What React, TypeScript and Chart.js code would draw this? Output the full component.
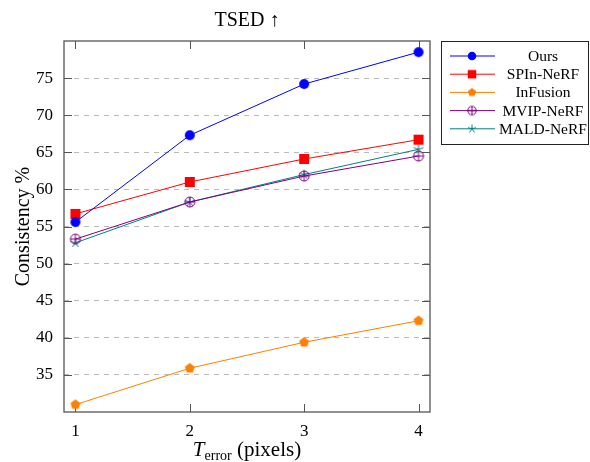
import React, { useEffect, useRef } from 'react';
import { Chart, registerables } from 'chart.js';
Chart.register(...registerables);

const xValues = [1, 2, 3, 4];
const xTickValues = [1, 2, 3, 4];
const yTickValues = [35, 40, 45, 50, 55, 60, 65, 70, 75];
const seriesNames = ['Ours', 'SPIn-NeRF', 'InFusion', 'MVIP-NeRF', 'MALD-NeRF'];
const ours = [55.6, 67.3, 74.2, 78.5];
const spin = [56.7, 61.0, 64.1, 66.7];
const infusion = [31.0, 35.9, 39.4, 42.3];
const mvip = [53.3, 58.3, 61.8, 64.5];
const mald = [52.8, 58.3, 62.0, 65.4];
const seriesColors = ['#0000ff', '#ff0000', '#ff8000', '#800080', '#008080'];

const FONT = "'Liberation Serif', 'DejaVu Serif', serif";

function makeMarker(kind: string, color: string, scale = 1): HTMLCanvasElement {
  const s = Math.ceil(16 * scale);
  const c = document.createElement('canvas');
  c.width = s;
  c.height = s;
  const ctx = c.getContext('2d')!;
  const cx = s / 2, cy = s / 2;
  ctx.fillStyle = color;
  ctx.strokeStyle = color;
  ctx.lineWidth = 1;
  if (kind === 'circle') {
    ctx.beginPath();
    ctx.arc(cx, cy, 5 * scale, 0, Math.PI * 2);
    ctx.fill();
  } else if (kind === 'square') {
    const h = 5 * scale;
    ctx.fillRect(cx - h, cy - h, 2 * h, 2 * h);
  } else if (kind === 'pentagon') {
    const r = 5.2 * scale;
    ctx.beginPath();
    for (let i = 0; i < 5; i++) {
      const a = -Math.PI / 2 + (i * 2 * Math.PI) / 5;
      const px = cx + r * Math.cos(a), py = cy + r * Math.sin(a);
      if (i === 0) ctx.moveTo(px, py); else ctx.lineTo(px, py);
    }
    ctx.closePath();
    ctx.fill();
  } else if (kind === 'oplus') {
    const r = 5 * scale;
    ctx.beginPath();
    ctx.arc(cx, cy, r, 0, Math.PI * 2);
    ctx.stroke();
    ctx.beginPath();
    ctx.moveTo(cx - r, cy); ctx.lineTo(cx + r, cy);
    ctx.moveTo(cx, cy - r); ctx.lineTo(cx, cy + r);
    ctx.stroke();
  } else if (kind === 'star') {
    const r = 5 * scale;
    ctx.beginPath();
    for (let i = 0; i < 5; i++) {
      const a = -Math.PI / 2 + (i * 2 * Math.PI) / 5;
      ctx.moveTo(cx, cy);
      ctx.lineTo(cx + r * Math.cos(a), cy + r * Math.sin(a));
    }
    ctx.stroke();
  }
  return c;
}

const markerKinds = ['circle', 'square', 'pentagon', 'oplus', 'star'];

export default function App() {
  const ref = useRef<HTMLCanvasElement | null>(null);
  useEffect(() => {
    if (!ref.current) return;
    const seriesValues = [ours, spin, infusion, mvip, mald];
    const markers = markerKinds.map((k, i) => makeMarker(k, seriesColors[i]));
    const legendMarkers = markerKinds.map((k, i) => makeMarker(k, seriesColors[i], 0.85));

    const datasets = seriesNames.map((name, i) => ({
      label: name,
      data: xValues.map((x, j) => ({ x, y: seriesValues[i][j] })),
      borderColor: seriesColors[i],
      backgroundColor: seriesColors[i],
      borderWidth: 1,
      pointStyle: markers[i] as any,
      pointRadius: 5,
      tension: 0,
    }));

    const decor = {
      id: 'decor',
      beforeDatasetsDraw(chart: any) {
        const { ctx, chartArea: a, scales } = chart;
        ctx.save();
        ctx.strokeStyle = '#555';
        ctx.lineWidth = 1;
        const tl = 8;
        ctx.beginPath();
        for (const v of xTickValues) {
          const px = Math.round(scales.x.getPixelForValue(v)) + 0.5;
          ctx.moveTo(px, a.top); ctx.lineTo(px, a.top + tl);
          ctx.moveTo(px, a.bottom); ctx.lineTo(px, a.bottom - tl);
        }
        for (const v of yTickValues) {
          const py = Math.round(scales.y.getPixelForValue(v)) + 0.5;
          ctx.moveTo(a.left, py); ctx.lineTo(a.left + tl, py);
          ctx.moveTo(a.right, py); ctx.lineTo(a.right - tl, py);
        }
        ctx.stroke();
        ctx.lineWidth = 1.3;
        ctx.strokeRect(a.left, a.top, a.right - a.left, a.bottom - a.top);
        ctx.restore();
      },
      afterDraw(chart: any) {
        const { ctx, chartArea: a } = chart;
        ctx.save();
        ctx.fillStyle = '#000';
        const cx = (a.left + a.right) / 2;
        // title
        ctx.font = `20px ${FONT}`;
        ctx.textAlign = 'center';
        ctx.textBaseline = 'alphabetic';
        ctx.fillText('TSED ↑', cx, 26);
        // y label
        ctx.save();
        ctx.translate(29, (a.top + a.bottom) / 2);
        ctx.rotate(-Math.PI / 2);
        ctx.font = `20px ${FONT}`;
        ctx.textAlign = 'center';
        ctx.fillText('Consistency %', 0, 0);
        ctx.restore();
        // x label
        const f1 = `italic 21px ${FONT}`;
        const f2 = `14px ${FONT}`;
        const f3 = `21px ${FONT}`;
        ctx.textAlign = 'left';
        ctx.font = f1; const w1 = ctx.measureText('T').width;
        ctx.font = f2; const w2 = ctx.measureText('error').width;
        ctx.font = f3; const w3 = ctx.measureText(' (pixels)').width;
        let x0 = cx - (w1 + w2 + w3) / 2;
        ctx.font = f1; ctx.fillText('T', x0, 456); x0 += w1;
        ctx.font = f2; ctx.fillText('error', x0, 460); x0 += w2;
        ctx.font = f3; ctx.fillText(' (pixels)', x0, 456);
        // legend
        const lx = 441, ly = 41, lw = 148, lh = 104;
        ctx.fillStyle = '#fff';
        ctx.fillRect(lx, ly, lw, lh);
        ctx.strokeStyle = '#222';
        ctx.lineWidth = 1;
        ctx.strokeRect(lx + 0.5, ly + 0.5, lw - 1, lh - 1);
        ctx.font = `15.5px ${FONT}`;
        ctx.textAlign = 'center';
        ctx.textBaseline = 'middle';
        seriesNames.forEach((name, i) => {
          const yy = 56 + i * 18.2;
          ctx.strokeStyle = seriesColors[i];
          ctx.beginPath();
          ctx.moveTo(450, yy); ctx.lineTo(495, yy);
          ctx.stroke();
          const m = legendMarkers[i];
          ctx.drawImage(m, 472 - m.width / 2, yy - m.height / 2);
          ctx.fillStyle = '#000';
          ctx.fillText(name, 543, yy + 1);
        });
        ctx.restore();
      },
    };

    const chart = new Chart(ref.current, {
      type: 'line',
      data: { datasets: datasets as any },
      options: {
        animation: false,
        responsive: false,
        layout: { padding: { left: 0, right: 160, top: 41, bottom: 0 } },
        plugins: { legend: { display: false }, title: { display: false }, tooltip: { enabled: false } },
        scales: {
          x: {
            type: 'linear',
            min: 0.9,
            max: 4.1,
            afterBuildTicks: (s: any) => { s.ticks = xTickValues.map((v) => ({ value: v })); },
            afterFit: (s: any) => { s.height = 50; },
            grid: { display: false, drawTicks: false },
            border: { display: false },
            ticks: { color: '#000', font: { family: FONT, size: 17 }, padding: 9, maxRotation: 0, callback: (v: any) => String(v) },
          },
          y: {
            type: 'linear',
            min: 30,
            max: 80,
            afterBuildTicks: (s: any) => { s.ticks = yTickValues.map((v) => ({ value: v })); },
            afterFit: (s: any) => { s.width = 64; },
            grid: { color: '#bbbbbb', lineWidth: 1, drawTicks: false } as any,
            border: { display: false, dash: [5, 5] },
            ticks: { color: '#000', font: { family: FONT, size: 17 }, padding: 11, callback: (v: any) => String(v) },
          },
        },
      },
      plugins: [decor],
    });
    return () => chart.destroy();
  }, []);
  return (
    <div style={{ position: 'absolute', left: 0, top: 0, width: 590, height: 462, background: '#fff' }}>
      <canvas ref={ref} width={590} height={462} />
    </div>
  );
}
